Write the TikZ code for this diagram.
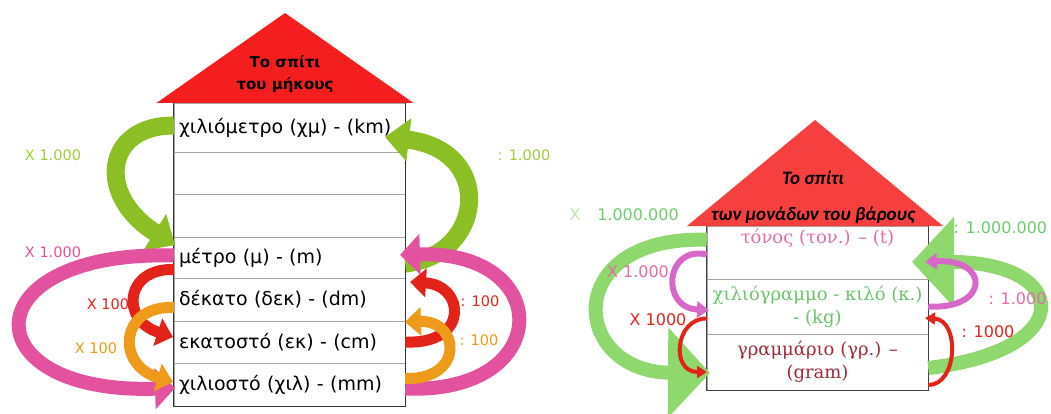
\documentclass[tikz,border=0pt]{standalone}
\usepackage{fontspec}
\setmainfont{DejaVu Sans}
\newfontfamily\grserif{DejaVu Serif}
\newfontfamily\roofit{Carlito}
\usetikzlibrary{arrows.meta}

\definecolor{roofred}{HTML}{F41E1E}
\definecolor{leafgreen}{HTML}{8CBF26}
\definecolor{labgreen}{HTML}{A2CC3A}
\definecolor{rose}{HTML}{E2529F}
\definecolor{scarlet}{HTML}{E32219}
\definecolor{amber}{HTML}{EE9A1A}
\definecolor{mint}{HTML}{8FD86E}
\definecolor{mintlab}{HTML}{6FCB6F}
\definecolor{orchid}{HTML}{D868C8}
\definecolor{tonpink}{HTML}{E36CA8}
\definecolor{kggreen}{HTML}{6DC36D}
\definecolor{gramred}{HTML}{A12A3C}

\tikzset{
  row/.style={draw=gray!70, fill=white, minimum width=231pt, inner sep=0pt,
    text width=221pt, align=left, font=\fontsize{19}{21}\selectfont},
  wrow/.style={draw=gray!70, fill=white, minimum width=221pt, inner sep=0pt},
  wtext/.style={font=\grserif\fontsize{18}{23}\selectfont, align=center},
  lab/.style={font=\fontsize{14.5}{16}\selectfont},
  wlab/.style={font=\fontsize{16}{18}\selectfont},
  greenrib/.style={leafgreen, line width=18pt, -{Triangle[length=24pt,width=42pt]}},
  pinkrib/.style={rose, line width=14pt, -{Triangle[length=20pt,width=40pt]}},
  midrib/.style={line width=11pt, -{Triangle[length=16pt,width=28pt]}},
  hugerib/.style={mint, line width=14pt, -{Triangle[length=42pt,width=88pt]}},
  thinrib/.style={line width=6pt, -{Triangle[length=12pt,width=16pt]}},
  hairrib/.style={scarlet, line width=4pt, -{Triangle[length=10pt,width=12pt]}}
}

\begin{document}
\begin{tikzpicture}[x=1pt,y=-1pt]
\useasboundingbox (0,0) rectangle (1051,413);

% the house of length
\node[row, minimum height=49pt] (km) at (289.5,127.5) {χιλιόμετρο (χμ) - (km)};
\node[row, minimum height=42pt] (blanka) at (289.5,173) {};
\node[row, minimum height=43pt] (blankb) at (289.5,215.5) {};
\node[row, minimum height=41pt] (m) at (289.5,257.5) {μέτρο (μ) - (m)};
\node[row, minimum height=43pt] (dm) at (289.5,299.5) {δέκατο (δεκ) - (dm)};
\node[row, minimum height=42pt] (cm) at (289.5,342) {εκατοστό (εκ) - (cm)};
\node[row, minimum height=43pt] (mm) at (289.5,384.5) {χιλιοστό (χιλ) - (mm)};
\draw[line width=1.2pt, black!80] (km.north west) rectangle (mm.south east);

\fill[roofred] ([xshift=-17pt]km.north west) -- (285,13) -- ([xshift=8pt]km.north east) -- cycle;
\node[font=\bfseries\fontsize{15}{22}\selectfont, align=center] (lroof) at (285,74) {Το σπίτι\\του μήκους};

\draw[greenrib] ([yshift=2pt]km.west) .. controls (105,125) and (95,195) .. (175,245);
\draw[greenrib] ([yshift=-6pt]m.east) .. controls (485,255) and (495,150) .. (385,137);
\draw[pinkrib] ([yshift=2pt]m.west) .. controls (-30,250) and (-30,395) .. (175,388);
\draw[pinkrib] ([yshift=-4pt]mm.east) .. controls (555,395) and (555,250) .. (400,255);
\draw[midrib, scarlet] ([yshift=-12pt]m.west) .. controls (125,268) and (120,320) .. (173,337);
\draw[midrib, amber] ([yshift=-8pt]dm.west) .. controls (120,305) and (115,365) .. (173,382);
\draw[midrib, scarlet] (cm.east) .. controls (470,345) and (465,285) .. (410,282);
\draw[midrib, amber] ([yshift=6pt]mm.east) .. controls (465,380) and (460,320) .. (405,322);

\node[lab, labgreen] (tkm) at (53,155) {X 1.000};
\node[lab, rose] (tm) at (53,252) {X 1.000};
\node[lab, scarlet] (tdm) at (108,304) {X 100};
\node[lab, amber] (tcm) at (96,348) {X 100};
\node[lab, labgreen] (dkm) at (524,155) {: 1.000};
\node[lab, scarlet] (ddm) at (480,301) {: 100};
\node[lab, amber] (dcm) at (479,340) {: 100};

% the house of weight
\node[wrow, minimum height=53pt] (tn) at (817.5,252.5) {};
\node[wrow, minimum height=55pt] (kg) at (817.5,306.5) {};
\node[wrow, minimum height=56pt] (gr) at (817.5,362) {};
\draw[line width=1.2pt, black!75] (tn.north west) rectangle (gr.south east);

\fill[roofred!85!white] (687,226) -- (815,120) -- (943,226) -- cycle;
\node[font=\roofit\bfseries\itshape\fontsize{19}{20}\selectfont] (rroof) at (813,178) {Το σπίτι};
\node[font=\roofit\bfseries\itshape\fontsize{19}{20}\selectfont] (rroofb) at (813,215) {των μονάδων του βάρους};

\node[wtext, tonpink] (tntext) at ([yshift=-12pt]tn.north) {τόνος (τον.) – (t)};
\node[wtext, kggreen] (kgtext) at (kg.center) {χιλιόγραμμο - κιλό (κ.)\\- (kg)};
\node[wtext, gramred] (grtext) at (gr.center) {γραμμάριο (γρ.) –\\(gram)};

\draw[hugerib] ([yshift=-14pt]tn.north west) .. controls (560,235) and (570,372) .. (710,373);
\draw[hugerib] ([yshift=-6pt]gr.east) .. controls (1080,350) and (1070,262) .. (912,262);
\draw[thinrib, orchid] ([yshift=-2pt]tn.west) .. controls (665,245) and (660,308) .. (709,310);
\draw[thinrib, orchid] (kg.east) .. controls (990,310) and (990,258) .. (925,262);
\draw[hairrib] ([yshift=-12pt]kg.west) .. controls (675,318) and (670,372) .. (707,372);
\draw[hairrib] ([yshift=-23pt]gr.east) .. controls (958,385) and (960,320) .. (925,318);

\node[wlab, mint!60!white] (tx) at (575,215) {X};
\node[wlab, mintlab] (ttn) at (638,215) {1.000.000};
\node[wlab, mintlab, anchor=west] (dtn) at (950,228) {: 1.000.000};
\node[wlab, tonpink] (tkg) at (638,272) {X 1.000};
\node[wlab, tonpink, anchor=west] (dkg) at (985,299) {: 1.000};
\node[wlab, scarlet] (tgr) at (658,320) {X 1000};
\node[wlab, scarlet, anchor=west] (dgr) at (958,332) {: 1000};
\end{tikzpicture}
\end{document}
